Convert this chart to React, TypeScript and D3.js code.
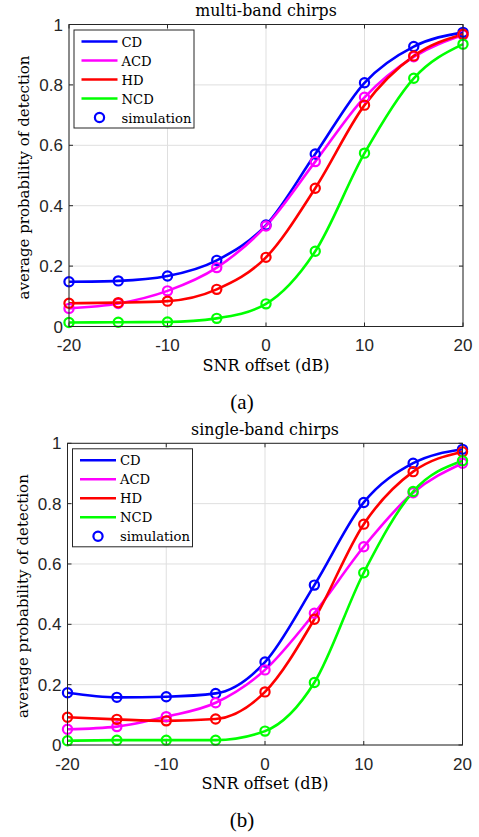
import React from "react";
import * as d3 from "d3";

const snr = [-20, -15, -10, -5, 0, 5, 10, 15, 20];
const seriesNames = ["CD", "ACD", "HD", "NCD"];
const seriesColors = ["#0000ff", "#ff00ff", "#ff0000", "#00ff00"];

const multiCD = [0.148, 0.151, 0.167, 0.219, 0.336, 0.571, 0.807, 0.927, 0.974];
const multiACD = [0.06, 0.076, 0.118, 0.195, 0.333, 0.546, 0.759, 0.893, 0.965];
const multiHD = [0.077, 0.079, 0.084, 0.123, 0.229, 0.458, 0.733, 0.896, 0.968];
const multiNCD = [0.013, 0.014, 0.015, 0.027, 0.075, 0.249, 0.574, 0.822, 0.935];

const singleCD = [0.173, 0.158, 0.16, 0.171, 0.275, 0.53, 0.804, 0.934, 0.98];
const singleACD = [0.052, 0.061, 0.094, 0.14, 0.249, 0.437, 0.657, 0.836, 0.934];
const singleHD = [0.092, 0.085, 0.08, 0.086, 0.176, 0.417, 0.732, 0.906, 0.972];
const singleNCD = [0.014, 0.016, 0.016, 0.016, 0.046, 0.207, 0.571, 0.84, 0.942];

const xTicks = [-20, -10, 0, 10, 20];
const yTicks = [0, 0.2, 0.4, 0.6, 0.8, 1];
const yTickLabels = ["0", "0.2", "0.4", "0.6", "0.8", "1"];

const titleA = "multi-band chirps";
const titleB = "single-band chirps";
const xLabel = "SNR offset (dB)";
const yLabel = "average probability of detection";

const serif = "'DejaVu Serif', serif";
const sans = "'Liberation Sans', Arial, sans-serif";
const axisColor = "#262626";

type PanelProps = {
  left: number;
  right: number;
  top: number;
  bottom: number;
  title: string;
  caption: string;
  data: number[][];
};

function Panel({ left, right, top, bottom, title, caption, data }: PanelProps) {
  const x = d3.scaleLinear().domain([-20, 20]).range([left, right]);
  const y = d3.scaleLinear().domain([0, 1]).range([bottom, top]);
  const line = d3
    .line<[number, number]>()
    .x((d) => x(d[0]))
    .y((d) => y(d[1]))
    .curve(d3.curveMonotoneX);
  const cx = (left + right) / 2;
  const cy = (top + bottom) / 2;
  const tick = 4;
  const lg = { x: left + 5, y: top + 5.5, w: 120, h: 98 };
  return (
    <g>
      <rect x={left} y={top} width={right - left} height={bottom - top} fill="#fff" />
      {xTicks.map((t) => (
        <line key={"gx" + t} x1={x(t)} x2={x(t)} y1={top} y2={bottom} stroke="#dfdfdf" strokeWidth={1} />
      ))}
      {yTicks.map((t) => (
        <line key={"gy" + t} x1={left} x2={right} y1={y(t)} y2={y(t)} stroke="#dfdfdf" strokeWidth={1} />
      ))}
      {xTicks.map((t) => (
        <g key={"tx" + t}>
          <line x1={x(t)} x2={x(t)} y1={bottom} y2={bottom - tick} stroke={axisColor} strokeWidth={1} />
          <line x1={x(t)} x2={x(t)} y1={top} y2={top + tick} stroke={axisColor} strokeWidth={1} />
          <text x={x(t)} y={bottom + 24.5} textAnchor="middle" fontFamily={sans} fontSize={17} fill={axisColor}>
            {t}
          </text>
        </g>
      ))}
      {yTicks.map((t, i) => (
        <g key={"ty" + t}>
          <line x1={left} x2={left + tick} y1={y(t)} y2={y(t)} stroke={axisColor} strokeWidth={1} />
          <line x1={right} x2={right - tick} y1={y(t)} y2={y(t)} stroke={axisColor} strokeWidth={1} />
          <text x={left - 6} y={y(t) + 6} textAnchor="end" fontFamily={sans} fontSize={17} fill={axisColor}>
            {yTickLabels[i]}
          </text>
        </g>
      ))}
      {data.map((vals, si) => (
        <path
          key={"l" + si}
          d={line(snr.map((s, i) => [s, vals[i]] as [number, number])) || ""}
          fill="none"
          stroke={seriesColors[si]}
          strokeWidth={2.6}
        />
      ))}
      {data.map((vals, si) =>
        snr.map((s, i) => (
          <circle
            key={"c" + si + "-" + i}
            cx={x(s)}
            cy={y(vals[i])}
            r={4.6}
            fill="none"
            stroke={seriesColors[si]}
            strokeWidth={2.2}
          />
        ))
      )}
      <rect x={left} y={top} width={right - left} height={bottom - top} fill="none" stroke={axisColor} strokeWidth={1} />
      <g>
        <rect x={lg.x} y={lg.y} width={lg.w} height={lg.h} fill="#fff" stroke={axisColor} strokeWidth={1} />
        {seriesNames.map((n, i) => (
          <g key={"lg" + n}>
            <line
              x1={lg.x + 7.5}
              x2={lg.x + 43.5}
              y1={lg.y + 11.5 + i * 19}
              y2={lg.y + 11.5 + i * 19}
              stroke={seriesColors[i]}
              strokeWidth={2.6}
            />
            <text x={lg.x + 47.5} y={lg.y + 16.5 + i * 19} fontFamily={serif} fontSize={13.2} fill="#000">
              {n}
            </text>
          </g>
        ))}
        <circle cx={lg.x + 25.5} cy={lg.y + 11.5 + 4 * 19} r={4.6} fill="none" stroke={seriesColors[0]} strokeWidth={2.2} />
        <text x={lg.x + 47.5} y={lg.y + 16.5 + 4 * 19} fontFamily={serif} fontSize={13.2} fill="#000">
          simulation
        </text>
      </g>
      <text x={cx} y={top - 8.5} textAnchor="middle" fontFamily={serif} fontSize={15.8} fill="#000">
        {title}
      </text>
      <text x={cx} y={bottom + 44} textAnchor="middle" fontFamily={serif} fontSize={16} fill="#000">
        {xLabel}
      </text>
      <text
        transform={`translate(${left - 40},${cy + 2}) rotate(-90)`}
        textAnchor="middle"
        fontFamily={serif}
        fontSize={15}
        fill="#000"
      >
        {yLabel}
      </text>
      <text x={242} y={bottom + 82} textAnchor="middle" fontFamily="'Liberation Serif', serif" fontSize={21} fill="#000">
        {caption}
      </text>
    </g>
  );
}

export default function App() {
  return (
    <svg
      width={479}
      height={837}
      style={{ position: "absolute", left: 0, top: 0, background: "#fff" }}
    >
      <rect width={479} height={837} fill="#fff" />
      <Panel
        left={69}
        right={463}
        top={24.5}
        bottom={326.5}
        title={titleA}
        caption="(a)"
        data={[multiCD, multiACD, multiHD, multiNCD]}
      />
      <Panel
        left={67.5}
        right={462.5}
        top={443.3}
        bottom={745}
        title={titleB}
        caption="(b)"
        data={[singleCD, singleACD, singleHD, singleNCD]}
      />
    </svg>
  );
}
